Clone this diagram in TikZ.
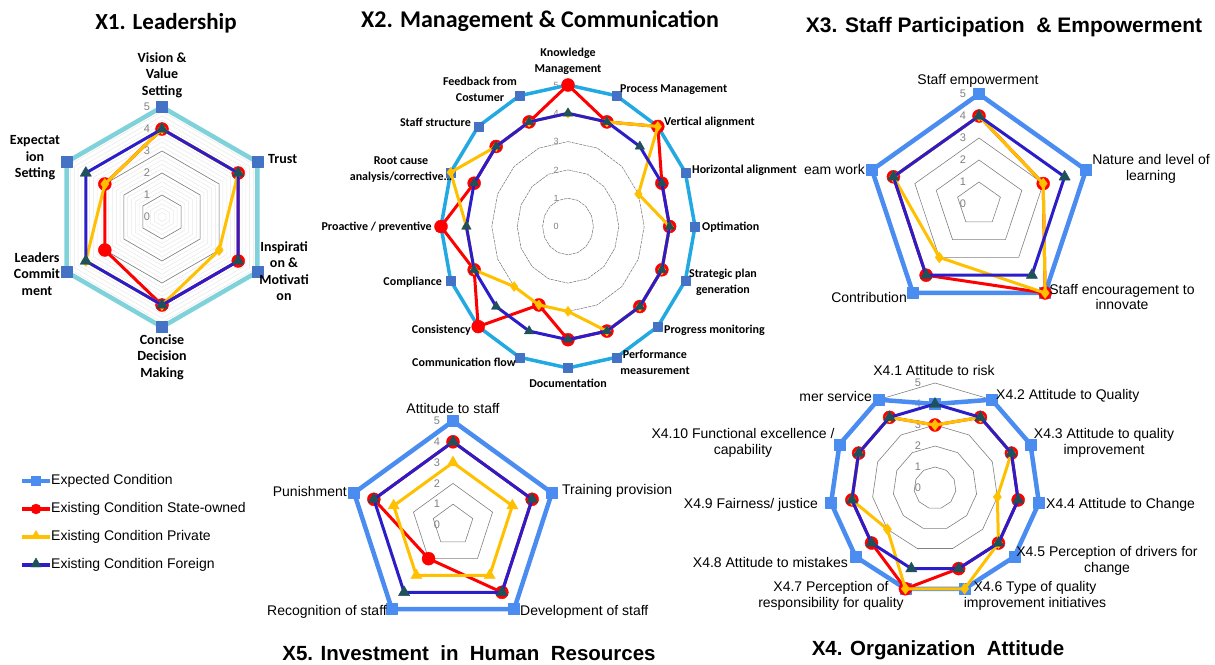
\documentclass[tikz,border=0pt]{standalone}
\usepackage{fontspec}
\setmainfont{Liberation Sans}
\newfontfamily\calibfont{Carlito}
\usetikzlibrary{plotmarks}

\definecolor{expcyan}{HTML}{7FD1DA}
\definecolor{expsky}{HTML}{22A9E1}
\definecolor{expblue}{HTML}{4A8CF0}
\definecolor{sqblue}{HTML}{4472C4}
\definecolor{soered}{HTML}{FF0000}
\definecolor{privamber}{HTML}{FFC000}
\definecolor{forblue}{HTML}{2B1DC8}
\definecolor{forteal}{HTML}{1F515C}

\tikzset{
  minorgrid/.style={draw=black!9, line width=0.5pt},
  majorgrid/.style={draw=black!50, line width=0.6pt},
  dashgrid/.style={draw=black!55, line width=0.5pt, dash pattern=on 3pt off 0.8pt},
  expline/.style={line width=4.5pt, line join=round},
  dataline/.style={line width=3pt, line join=round},
  sqmark/.style={mark=square*, mark size=5.5pt, mark options={solid, line width=0.4pt, draw=#1, fill=#1}},
  dotmark/.style={mark=*, mark size=6.5pt, mark options={solid, line width=0.4pt, draw=soered, fill=soered}},
  diamark/.style={mark=diamond*, mark size=5.5pt, mark options={solid, line width=0.4pt, draw=privamber, fill=privamber}},
  ambtri/.style={mark=triangle*, mark size=6.5pt, mark options={solid, line width=0.4pt, draw=privamber, fill=privamber}},
  trimark/.style={mark=triangle*, mark size=6.5pt, mark options={solid, line width=0.4pt, draw=forteal, fill=forteal}},
  ldrlbl/.style={font=\calibfont\bfseries\fontsize{14}{16.5}\selectfont, align=center, inner sep=1pt},
  mgtlbl/.style={font=\calibfont\bfseries\fontsize{12}{16}\selectfont, align=center, inner sep=1pt},
  axlbl/.style={font=\fontsize{14}{15.5}\selectfont, align=center, inner sep=1pt},
  vallbl/.style={font=\fontsize{11}{11}\selectfont, text=black!50, inner sep=0pt},
  ttlcal/.style={font=\calibfont\bfseries\fontsize{23}{26}\selectfont, anchor=base, inner sep=0pt},
  ttlari/.style={font=\bfseries\fontsize{21}{25}\selectfont, anchor=base, inner sep=0pt},
  leglbl/.style={font=\fontsize{14}{16}\selectfont, anchor=west, inner sep=0pt}
}

\begin{document}
\begin{tikzpicture}[x=1pt, y=-1pt]
\useasboundingbox (0,0) rectangle (1215,664);

% X1 Leadership
\node[ttlcal] (ldrtitle) at (166,29) {X1. Leadership};
\begin{scope}[shift={(162,217)}, x=22pt, y=22pt]
\foreach \r in {0.2,0.4,...,4.9}
  \draw[minorgrid] (90:\r) -- (30:\r) -- (-30:\r) -- (-90:\r) -- (-150:\r) -- (150:\r) -- cycle;
\foreach \r in {1,...,5}
  \draw[majorgrid] (90:\r) -- (30:\r) -- (-30:\r) -- (-90:\r) -- (-150:\r) -- (150:\r) -- cycle;
\foreach \v in {0,...,5}
  \node[vallbl, xshift=-15pt] (ldrv\v) at (90:\v) {\v};
\draw[expline, draw=expcyan, sqmark=sqblue] plot coordinates {(90:5) (30:5) (-30:5) (-90:5) (-150:5) (150:5)} -- cycle;
\draw[dataline, draw=soered, dotmark] plot coordinates {(90:4) (30:4) (-30:4) (-90:4) (-150:3) (150:3)} -- cycle;
\draw[dataline, draw=privamber, diamark] plot coordinates {(90:4) (30:4) (-30:3) (-90:4) (-150:4) (150:3)} -- cycle;
\draw[dataline, draw=forblue, trimark] plot coordinates {(90:4) (30:4) (-30:4) (-90:4) (-150:4) (150:4)} -- cycle;
\end{scope}
\node[ldrlbl] (vision) at (162,75) {Vision \&\\Value\\Setting};
\node[ldrlbl, anchor=west] (trust) at (267,159) {Trust};
\node[ldrlbl] (inspire) at (284,271) {Inspirati\\on \&\\Motivati\\on};
\node[ldrlbl] (concise) at (162,357) {Concise\\Decision\\Making};
\node[ldrlbl] (commit) at (37,274) {Leaders\\Commit\\ment};
\node[ldrlbl] (expect) at (35,158) {Expectat\\ion\\Setting};

% X2 Management & Communication
\node[ttlcal, font=\calibfont\bfseries\fontsize{24}{27}\selectfont] (mgttitle) at (540,27) {X2. Management \& Communication};
\begin{scope}[shift={(568,226.5)}, x=25.4pt, y=28.3pt]
\foreach \r in {1,...,5}
  \draw[dashgrid] (90:\r) \foreach \a in {1,...,15} { -- (90-\a*22.5:\r) } -- cycle;
\foreach \v in {0,...,5}
  \node[vallbl, font=\fontsize{9}{9}\selectfont, xshift=-12pt] (mgtv\v) at (90:\v) {\v};
\draw[expline, line width=3.5pt, draw=expsky, sqmark=sqblue, mark size=4.5pt] plot coordinates {(90:5) (67.5:5) (45:5) (22.5:5) (0:5) (-22.5:5) (-45:5) (-67.5:5) (-90:5) (-112.5:5) (-135:5) (-157.5:5) (180:5) (157.5:5) (135:5) (112.5:5)} -- cycle;
\draw[dataline, draw=soered, dotmark] plot coordinates {(90:5) (67.5:4) (45:5) (22.5:4) (0:4) (-22.5:4) (-45:4) (-67.5:4) (-90:4) (-112.5:3) (-135:5) (-157.5:4) (180:5) (157.5:4) (135:4) (112.5:4)} -- cycle;
\draw[dataline, draw=privamber, diamark, mark size=5pt] plot coordinates {(90:4) (67.5:4) (45:5) (22.5:3) (0:4) (-22.5:4) (-45:4) (-67.5:4) (-90:3) (-112.5:3) (-135:3) (-157.5:4) (180:4) (157.5:5) (135:4) (112.5:4)} -- cycle;
\draw[dataline, draw=forblue, trimark, mark size=5.5pt] plot coordinates {(90:4) (67.5:4) (45:4) (22.5:4) (0:4) (-22.5:4) (-45:4) (-67.5:4) (-90:4) (-112.5:4) (-135:4) (-157.5:4) (180:4) (157.5:4) (135:4) (112.5:4)} -- cycle;
\end{scope}
\node[mgtlbl] (knowl) at (568,61) {Knowledge\\Management};
\node[mgtlbl, anchor=west] (procm) at (619,90) {Process Management};
\node[mgtlbl, anchor=west] (vertal) at (663,122) {Vertical alignment};
\node[mgtlbl, anchor=west] (horal) at (691,170) {Horizontal alignment};
\node[mgtlbl, anchor=west] (optim) at (701,227) {Optimation};
\node[mgtlbl] (strat) at (723,282) {Strategic plan\\generation};
\node[mgtlbl, anchor=west] (progm) at (663,330) {Progress monitoring};
\node[mgtlbl] (perfm) at (655,362) {Performance\\measurement};
\node[mgtlbl] (docum) at (568,383) {Documentation};
\node[mgtlbl, anchor=east] (commf) at (517,362) {Communication flow};
\node[mgtlbl, anchor=east] (consi) at (472,330) {Consistency};
\node[mgtlbl, anchor=east] (compl) at (443,282) {Compliance};
\node[mgtlbl, anchor=east] (proac) at (433,227) {Proactive / preventive};
\node[mgtlbl] (rootc) at (401,170) {Root cause\\analysis/corrective…};
\node[mgtlbl, anchor=east] (staffs) at (472,122) {Staff structure};
\node[mgtlbl] (feedb) at (480,89) {Feedback from\\Costumer};

% X3 Staff Participation & Empowerment
\node[ttlari] (parttitle) at (1004,32) {X3. Staff Participation \ \& Empowerment};
\begin{scope}[shift={(979,204)}, x=22.5pt, y=22pt]
\foreach \r in {1,...,5}
  \draw[majorgrid] (90:\r) -- (18:\r) -- (-54:\r) -- (-126:\r) -- (162:\r) -- cycle;
\foreach \v in {0,...,5}
  \node[vallbl, xshift=-16pt] (partv\v) at (90:\v) {\v};
\draw[expline, draw=expblue, sqmark=expblue] plot coordinates {(90:5) (18:5) (-54:5) (-126:5) (162:5)} -- cycle;
\draw[dataline, draw=soered, dotmark] plot coordinates {(90:4) (18:3) (-54:5) (-126:4) (162:4)} -- cycle;
\draw[dataline, draw=privamber, diamark] plot coordinates {(90:4) (18:3) (-54:5) (-126:3) (162:4)} -- cycle;
\draw[dataline, draw=forblue, trimark] plot coordinates {(90:4) (18:4) (-54:4) (-126:4) (162:4)} -- cycle;
\end{scope}
\node[axlbl] (empow) at (978,81) {Staff empowerment};
\node[axlbl] (learn) at (1151,169) {Nature and level of\\learning};
\node[axlbl] (innov) at (1122,297) {Staff encouragement to\\innovate};
\node[axlbl, anchor=east] (contrib) at (908,297) {Contribution};
\node[axlbl, anchor=east] (teamw) at (866,169) {eam work};

% X4 Organization Attitude
\node[ttlari, font=\bfseries\fontsize{20.5}{25}\selectfont] (orgtitle) at (938,655) {X4. Organization \ Attitude};
\begin{scope}[shift={(935,488)}, x=21pt, y=21pt]
\foreach \r in {1,...,5}
  \draw[majorgrid] (90:\r) \foreach \a in {1,...,10} { -- (90-\a*360/11:\r) } -- cycle;
\foreach \v in {0,...,5}
  \node[vallbl, xshift=-17pt] (orgv\v) at (90:\v) {\v};
\draw[expline, draw=expblue, sqmark=expblue] plot coordinates {(90:4) (57.27:5) (24.55:5) (-8.18:5) (-40.91:5) (-73.64:5) (-106.36:5) (-139.09:5) (-171.82:5) (155.45:5) (122.73:5)} -- cycle;
\draw[dataline, draw=soered, dotmark] plot coordinates {(90:3) (57.27:4) (24.55:4) (-8.18:4) (-40.91:4) (-73.64:4) (-106.36:5) (-139.09:4) (-171.82:4) (155.45:4) (122.73:4)} -- cycle;
\draw[dataline, draw=privamber, diamark] plot coordinates {(90:3) (57.27:4) (24.55:4) (-8.18:3) (-40.91:4) (-73.64:5) (-106.36:5) (-139.09:3) (-171.82:4) (155.45:4) (122.73:4)} -- cycle;
\draw[dataline, draw=forblue, trimark] plot coordinates {(90:4) (57.27:4) (24.55:4) (-8.18:4) (-40.91:4) (-73.64:4) (-106.36:4) (-139.09:4) (-171.82:4) (155.45:4) (122.73:4)} -- cycle;
\end{scope}
\node[axlbl] (risk) at (934,370) {X4.1 Attitude to risk};
\node[axlbl, anchor=west] (quality) at (995,396) {X4.2 Attitude to Quality};
\node[axlbl] (qimprove) at (1104,443) {X4.3 Attitude to quality\\improvement};
\node[axlbl, anchor=west] (change) at (1045,505) {X4.4 Attitude to Change};
\node[axlbl] (drivers) at (1107,561) {X4.5 Perception of drivers for\\change};
\node[axlbl] (qtype) at (1035,596) {X4.6 Type of quality\\improvement initiatives};
\node[axlbl] (respons) at (831,596) {X4.7 Perception of\\responsibility for quality};
\node[axlbl, anchor=east] (mistake) at (849,562) {X4.8 Attitude to mistakes};
\node[axlbl, anchor=east] (fair) at (819,505) {X4.9 Fairness/ justice};
\node[axlbl] (funcex) at (743,443) {X4.10 Functional excellence /\\capability};
\node[axlbl, anchor=east] (custom) at (873,396) {mer service};

% X5 Investment in Human Resources
\node[ttlari, font=\bfseries\fontsize{20.5}{25}\selectfont] (hrtitle) at (469,660) {X5. Investment \ in \ Human \ Resources};
\begin{scope}[shift={(453,525)}, x=20.8pt, y=20.8pt]
\foreach \r in {1,...,5}
  \draw[majorgrid] (90:\r) -- (18:\r) -- (-54:\r) -- (-126:\r) -- (162:\r) -- cycle;
\foreach \v in {0,...,5}
  \node[vallbl, xshift=-16pt] (hrv\v) at (90:\v) {\v};
\draw[expline, draw=expblue, sqmark=expblue] plot coordinates {(90:5) (18:5) (-54:5) (-126:5) (162:5)} -- cycle;
\draw[dataline, draw=soered, dotmark] plot coordinates {(90:4) (18:4) (-54:4) (-126:2) (162:4)} -- cycle;
\draw[dataline, draw=privamber, ambtri] plot coordinates {(90:3) (18:3) (-54:3) (-126:3) (162:3)} -- cycle;
\draw[dataline, draw=forblue, trimark] plot coordinates {(90:4) (18:4) (-54:4) (-126:4) (162:4)} -- cycle;
\end{scope}
\node[axlbl] (atstaff) at (453,408) {Attitude to staff};
\node[axlbl, anchor=west] (training) at (561,491) {Training provision};
\node[axlbl, anchor=west] (develop) at (519,612) {Development of staff};
\node[axlbl, anchor=east] (recog) at (388,612) {Recognition of staff};
\node[axlbl, anchor=east] (punish) at (348,491) {Punishment};

% legend
\draw[line width=3.5pt, expblue] (22,481) -- (50,481);
\draw plot[only marks, mark=square*, mark size=4.5pt, mark options={fill=expblue, draw=expblue}] coordinates {(36,481)};
\node[leglbl] (legexp) at (51,481) {Expected Condition};
\draw[line width=3.5pt, soered] (22,509) -- (50,509);
\draw plot[only marks, mark=*, mark size=5pt, mark options={fill=soered, draw=soered}] coordinates {(36,509)};
\node[leglbl] (legsoe) at (51,509) {Existing Condition State-owned};
\draw[line width=3.5pt, privamber] (22,537) -- (50,537);
\draw plot[only marks, mark=triangle*, mark size=5.5pt, mark options={fill=privamber, draw=privamber}] coordinates {(36,536)};
\node[leglbl] (legpriv) at (51,537) {Existing Condition Private};
\draw[line width=3.5pt, forblue] (22,565) -- (50,565);
\draw plot[only marks, mark=triangle*, mark size=6pt, mark options={fill=forteal, draw=forteal}] coordinates {(36,564)};
\node[leglbl] (legfor) at (51,565) {Existing Condition Foreign};

\end{tikzpicture}
\end{document}
